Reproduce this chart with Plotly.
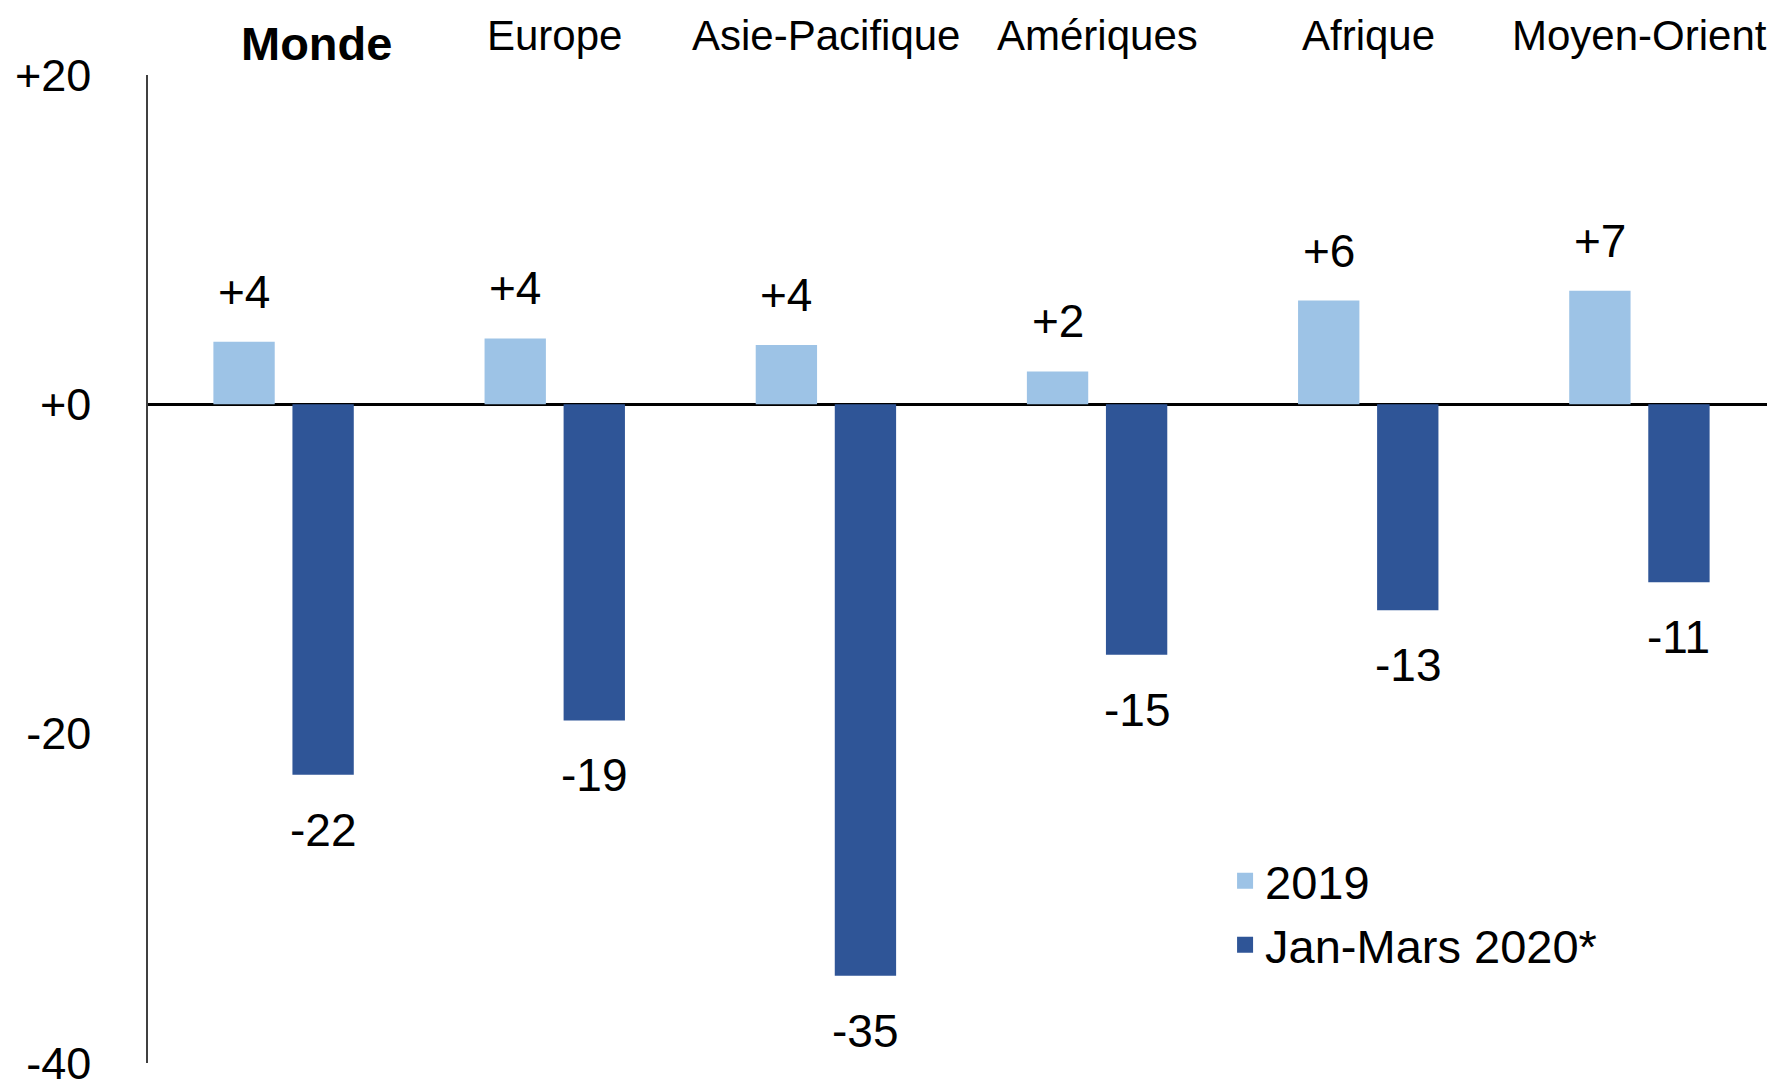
import plotly.graph_objects as go

regions = ["Monde", "Europe", "Asie-Pacifique", "Amériques", "Afrique", "Moyen-Orient"]
values_2019 = [3.8, 4.0, 3.6, 2.0, 6.3, 6.9]
values_2020 = [-22.5, -19.2, -34.7, -15.2, -12.5, -10.8]
labels_2019 = ["+4", "+4", "+4", "+2", "+6", "+7"]
labels_2020 = ["-22", "-19", "-35", "-15", "-13", "-11"]
series_names = ["2019", "Jan-Mars 2020*"]
tick_vals = [20, 0, -20, -40]
tick_text = ["+20", "+0", "-20", "-40"]

FONT = "Liberation Sans, Arial, sans-serif"
LIGHT = "#9DC3E6"
DARK = "#2F5597"
BARGAP = 0.417
GROUPGAP = 0.224

fig = go.Figure()
fig.add_bar(x=regions, y=values_2019, name=series_names[0], marker_color=LIGHT,
            marker_line_width=0, showlegend=False)
fig.add_bar(x=regions, y=values_2020, name=series_names[1], marker_color=DARK,
            marker_line_width=0, showlegend=False)
# legend entries with larger square swatches
for name, col in zip(series_names, [LIGHT, DARK]):
    fig.add_scatter(x=[None], y=[None], mode="markers", name=name,
                    marker=dict(symbol="square", size=16, color=col), showlegend=True)

slot = (1 - BARGAP) / 2
annotations = []
for i, (v, t) in enumerate(zip(values_2019, labels_2019)):
    annotations.append(dict(x=i - slot / 2, y=v, xref="x", yref="y", text=t, showarrow=False,
                            yanchor="middle", yshift=50, font=dict(size=46, color="black", family=FONT)))
for i, (v, t) in enumerate(zip(values_2020, labels_2020)):
    annotations.append(dict(x=i + slot / 2, y=v, xref="x", yref="y", text=t, showarrow=False,
                            yanchor="middle", yshift=-55, font=dict(size=46, color="black", family=FONT)))
for i, r in enumerate(regions):
    if i == 0:
        annotations.append(dict(x=i, y=1, xref="x", yref="paper", text="<b>" + r + "</b>", showarrow=False,
                                yanchor="middle", yshift=32, xshift=33, font=dict(size=47, color="black", family=FONT)))
    else:
        annotations.append(dict(x=i, y=1, xref="x", yref="paper", text=r, showarrow=False,
                                yanchor="middle", yshift=40, font=dict(size=42, color="black", family=FONT)))

fig.update_layout(
    width=1767, height=1081,
    margin=dict(l=140, r=0, t=67, b=23),
    paper_bgcolor="white", plot_bgcolor="white",
    barmode="group", bargap=BARGAP, bargroupgap=GROUPGAP,
    font=dict(family=FONT, size=45, color="black"),
    annotations=annotations,
    legend=dict(x=0.662, y=0.222, xanchor="left", yanchor="top", bgcolor="rgba(0,0,0,0)",
                font=dict(size=47, family=FONT, color="black"), itemwidth=30, tracegroupgap=0),
    showlegend=True,
)
fig.update_xaxes(showticklabels=False, showline=False, showgrid=False, zeroline=False,
                 range=[-0.5, 5.5])
fig.update_yaxes(range=[-40, 20], tickvals=tick_vals, ticktext=tick_text, showgrid=False,
                 showline=True, linecolor="#404040", linewidth=1.5,
                 zeroline=True, zerolinecolor="black", zerolinewidth=3,
                 ticks="", ticklabelstandoff=46, ticklabeloverflow="allow",
                 tickfont=dict(size=45, family=FONT, color="black"))

fig.write_html("out.html")
